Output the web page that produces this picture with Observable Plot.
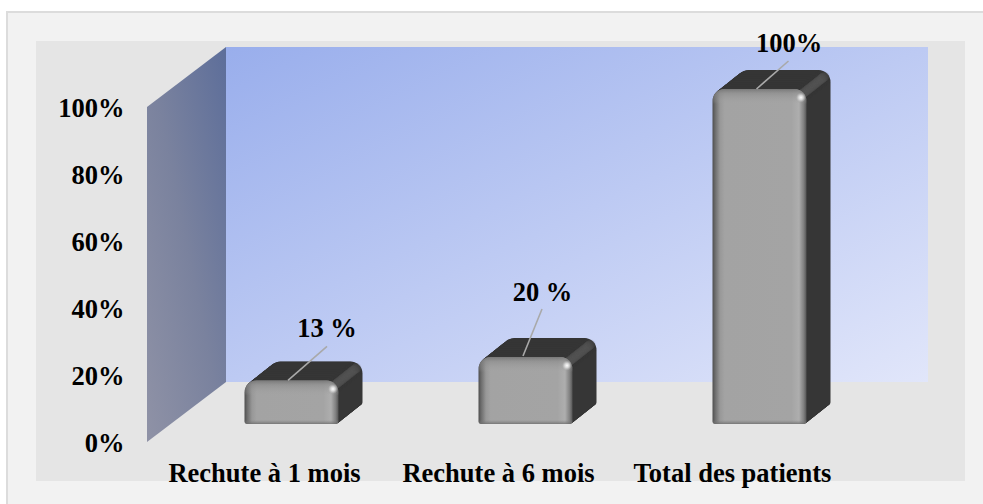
<!DOCTYPE html>
<html>
<head>
<meta charset="utf-8">
<script src="https://cdn.jsdelivr.net/npm/d3@7"></script>
<script src="https://cdn.jsdelivr.net/npm/@observablehq/plot@0.6"></script>
<style>html,body{margin:0;padding:0;background:#fff}svg{display:block}</style>
</head>
<body>
<div id="chart"></div>
<script>
const categories = ["Rechute à 1 mois", "Rechute à 6 mois", "Total des patients"];
const values = [13, 20, 100];
const valueLabels = ["13 %", "20 %", "100%"];
const yTicks = [0, 20, 40, 60, 80, 100];

const rows = categories.map((c, i) => ({c, v: values[i], label: valueLabels[i]}));

// layout (pixels, not data)
const wall = {dx: 79, dy: 60, right: 928};
const barShift = {dx: 27.5, dy: -18};
const depth = {dx: 24, dy: 19};
const leaderEnds = [
  {x0: -3.5, y0: 0, x1: 35.5, y1: -34, tx: 35, ty: -52},
  {x0: -2.5, y0: -1, x1: 16.5, y1: -48, tx: 16.5, ty: -65},
  {x0: -3, y0: 0, x1: 29, y1: -28, tx: 29, ty: -46}
];
const corners = {rx1y1: 12, rx2y1: 12, rx1y2: 3, rx2y2: 3};
const font = {fontFamily: "'Liberation Serif','Times New Roman',serif", fontWeight: "bold", fontSize: 26.5, fill: "#000"};

function backdrop(index, {x, y}, values, {width, height}) {
  const ns = d3.create("svg:g");
  const defs = ns.append("defs");
  const grad = (id, attrs, stops) => {
    const g = defs.append("linearGradient").attr("id", id);
    Object.entries(attrs).forEach(([k, v]) => g.attr(k, v));
    stops.forEach(([o, c, a = 1]) => g.append("stop").attr("offset", o).attr("stop-color", c).attr("stop-opacity", a));
  };
  grad("backWall", {x1: 0, y1: 0, x2: 1, y2: 1}, [[0, "#99aeec"], [1, "#e1e6fa"]]);
  grad("sideWall", {x1: 0, y1: 1, x2: 1, y2: 0}, [[0, "#8f92a6"], [0.5, "#7a829e"], [1, "#5d6e9a"]]);
  grad("face", {x1: 0, x2: 1, y1: 0, y2: 0}, [[0, "#4f4f4f"], [0.03, "#6e6e6e"], [0.08, "#989898"], [0.13, "#a3a3a3"], [0.84, "#a4a4a4"], [0.92, "#aeaeae"], [0.97, "#808080"], [1, "#555555"]]);
  grad("bevelTop", {x1: 0, x2: 0, y1: 0, y2: 1}, [[0, "#666666", 0.7], [0.3, "#858585", 0.5], [0.8, "#9c9c9c", 0.2], [1, "#a3a3a3", 0]]);
  grad("bevelBottom", {x1: 0, x2: 0, y1: 0, y2: 1}, [[0, "#808080", 0], [1, "#6c6c6c", 0.8]]);
  const spec = defs.append("radialGradient").attr("id", "specular");
  spec.append("stop").attr("offset", 0).attr("stop-color", "#fff");
  spec.append("stop").attr("offset", 0.45).attr("stop-color", "#f0f0f0").attr("stop-opacity", 0.7);
  spec.append("stop").attr("offset", 1).attr("stop-color", "#ccc").attr("stop-opacity", 0);

  // page frame
  ns.append("rect").attr("x", 6).attr("y", 11).attr("width", width - 6).attr("height", height - 11).attr("fill", "#dcdcdc");
  ns.append("rect").attr("x", 8).attr("y", 13).attr("width", width - 8).attr("height", height - 13).attr("fill", "#f2f2f2");
  // plot panel
  ns.append("rect").attr("x", 36).attr("y", 41).attr("width", 929).attr("height", 440).attr("fill", "#e5e5e5");
  const x0 = 147;
  const yTop = y(100), yBase = y(0);
  // back wall
  ns.append("rect").attr("x", x0 + wall.dx).attr("y", yTop - wall.dy)
    .attr("width", wall.right - x0 - wall.dx).attr("height", yBase - yTop).attr("fill", "url(#backWall)");
  // side wall
  ns.append("path").attr("fill", "url(#sideWall)")
    .attr("d", `M${x0},${yBase}L${x0 + wall.dx},${yBase - wall.dy}L${x0 + wall.dx},${yTop - wall.dy}L${x0},${yTop}Z`);
  return ns.node();
}

function leaders(index, {x, y}) {
  const g = d3.create("svg:g").attr("stroke", "#a9a9a9").attr("stroke-width", 1.6).attr("fill", "none");
  rows.forEach((r, i) => {
    const e = leaderEnds[i];
    const cx = x(r.c) + x.bandwidth() / 2 + barShift.dx, cy = y(r.v) + barShift.dy;
    g.append("line").attr("x1", cx + e.x0).attr("y1", cy + e.y0).attr("x2", cx + e.x1).attr("y2", cy + e.y1);
  });
  return g.node();
}

// extruded dark body, stepped back along the depth direction
const steps = d3.range(48, 0, -1).map(k => k / 48);
const extrusion = steps.map(t => Plot.barY(rows, {
  x: "c", y: "v", fill: "#363636", ...corners,
  dx: barShift.dx + depth.dx * t, dy: barShift.dy - depth.dy * t
}));
// lighter ridge running from the front top-right corner to the back one
const ridge = steps.map(t => Plot.dot(rows, {
  x: "c", y: "v", r: 5, fill: "#5a5a5a", fillOpacity: 0.12,
  dx: barShift.dx + 46.5 - 6 + depth.dx * t, dy: barShift.dy + 6 - depth.dy * t
}));

const textMarks = rows.map((r, i) => Plot.text([r], {
  x: "c", y: "v", text: "label", ...font,
  dx: barShift.dx + leaderEnds[i].tx, dy: barShift.dy + leaderEnds[i].ty
}));

const chart = Plot.plot({
  width: 983,
  height: 504,
  marginLeft: 147,
  marginRight: 134,
  marginTop: 107,
  marginBottom: 62,
  style: {background: "#fff", fontFamily: font.fontFamily},
  x: {domain: categories, paddingInner: 0.6, paddingOuter: 0.3, label: null},
  y: {domain: [0, 100], label: null},
  marks: [
    backdrop,
    ...extrusion,
    ...ridge,
    Plot.barY(rows, {x: "c", y: "v", fill: "url(#face)", ...corners, dx: barShift.dx, dy: barShift.dy}),
    Plot.barY(rows, {x: "c", y1: d => d.v, y2: d => d.v - 4.5, fill: "url(#bevelTop)", rx1y1: 12, rx2y1: 12, dx: barShift.dx, dy: barShift.dy}),
    Plot.barY(rows, {x: "c", y1: 1.2, y2: 0, fill: "url(#bevelBottom)", rx1y2: 3, rx2y2: 3, dx: barShift.dx, dy: barShift.dy}),
    Plot.dot(rows, {x: "c", y: "v", r: 5, fill: "url(#specular)", dx: barShift.dx + 41, dy: barShift.dy + 8}),
    leaders,
    ...textMarks,
    Plot.axisY({ticks: yTicks, tickSize: 0, tickPadding: 23, tickFormat: d => d + "%", label: null, ...font, fontVariant: "normal", dy: 1}),
    Plot.axisX({tickSize: 0, tickPadding: 21, label: null, ...font, lineAnchor: "top"})
  ]
});
document.getElementById("chart").append(chart);
</script>
</body>
</html>
